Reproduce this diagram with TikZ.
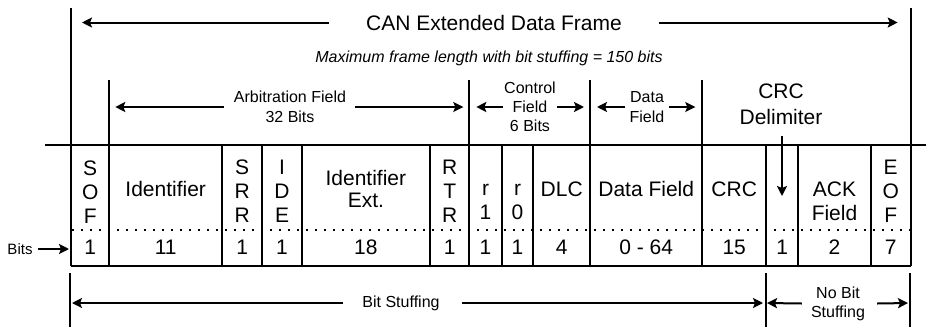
\documentclass[tikz,border=0pt]{standalone}
\usepackage{fontspec}
\setmainfont{Liberation Sans}
\usetikzlibrary{arrows.meta}
\begin{document}
\begin{tikzpicture}[x=1pt,y=-1pt,
    boxline/.style={line width=2.3pt},
    thinline/.style={line width=1.2pt},
    dimarrow/.style={line width=2pt,-{Stealth[length=10pt,width=10pt,inset=2pt]}},
    bigtext/.style={font=\fontsize{21}{24}\selectfont,align=center,inner sep=0pt},
    smalltext/.style={font=\fontsize{16}{20}\selectfont,align=center,inner sep=0pt}]
  \useasboundingbox (0,0) rectangle (926,327);
  \foreach \n/\x in {0/71,1/109.3,2/222,3/262.3,4/301.7,5/430,6/469.3,7/501.7,
                     8/533.3,9/590,10/702.3,11/766,12/798.3,13/870.7,14/910.7}
    \coordinate (c\n) at (\x,145);
  \coordinate (f0) at (71,8);
  \coordinate (f1) at (910.7,8);
  \draw[thinline] (45,145) -- (926,145);
  \draw[boxline] (f0) -- (71,266);
  \draw[boxline] (f1) -- (910.7,266);
  \draw[boxline] (71,266) -- (910.7,266);
  \foreach \n in {1,...,13}
    \draw[boxline] (c\n) -- ++(0,121);
  \foreach \n in {1,6,9,10}
    \draw[boxline] (c\n) -- ++(0,-65);
  \draw[line width=2.4pt, dash pattern=on 2.4pt off 6.6pt] (72,230) -- (910,230);
  \node[bigtext] (title) at (494,22.5) {CAN Extended Data Frame};
  \draw[dimarrow, shorten >=11pt] ([xshift=-37pt]title.west) -- (title.west -| f0);
  \draw[dimarrow, shorten >=13pt] ([xshift=37pt]title.east) -- (title.east -| f1);
  \node[smalltext, font=\fontsize{16}{19}\selectfont\itshape] (maxlen) at (489,58)
    {Maximum frame length with bit stuffing = 150 bits};
  \node[smalltext] (arb) at (290,107) {Arbitration Field\\32 Bits};
  \draw[dimarrow, shorten >=6pt] ([xshift=-10pt]arb.west) -- (arb.west -| c1);
  \draw[dimarrow, shorten >=6pt] ([xshift=9pt]arb.east) -- (arb.east -| c6);
  \node[smalltext, font=\fontsize{16}{19}\selectfont] (ctrl) at (530,107) {Control\\Field\\6 Bits};
  \draw[dimarrow, shorten >=7pt] ([xshift=-1pt]ctrl.west) -- (ctrl.west -| c6);
  \draw[dimarrow, shorten >=6pt] ([xshift=1pt]ctrl.east) -- (ctrl.east -| c9);
  \node[smalltext] (data) at (647,107) {Data\\Field};
  \draw[dimarrow, shorten >=7pt] ([xshift=-4pt]data.west) -- (data.west -| c9);
  \draw[dimarrow, shorten >=7pt] ([xshift=4pt]data.east) -- (data.east -| c10);
  \node[bigtext, font=\fontsize{21}{26}\selectfont] (crcdel) at (781,104) {CRC\\Delimiter};
  \coordinate (deltip) at (782,196);
  \draw[dimarrow] (782,136) -- (deltip);
  \node[bigtext] (sof) at (90.2,192.5) {S\\O\\F};
  \node[bigtext] (ident) at (165.7,189) {Identifier};
  \node[bigtext] (srr) at (242.2,191.5) {S\\R\\R};
  \node[bigtext] (ide) at (282,191.5) {I\\D\\E};
  \node[bigtext, font=\fontsize{21}{22}\selectfont] (identext) at (365.9,189) {Identifier\\Ext.};
  \node[bigtext] (rtr) at (449.7,191.5) {R\\T\\R};
  \node[bigtext] (rone) at (485.5,202) {r\\1};
  \node[bigtext] (rzero) at (517.5,202) {r\\0};
  \node[bigtext] (dlc) at (561.7,189) {DLC};
  \node[bigtext] (datafield) at (646.2,189) {Data Field};
  \node[bigtext] (crc) at (734.2,189) {CRC};
  \node[bigtext] (ack) at (834.5,201.5) {ACK\\Field};
  \node[bigtext] (eof) at (890.7,191) {E\\O\\F};
  \foreach \x/\b [count=\i] in {90.2/1,165.7/11,242.2/1,282/1,365.9/18,449.7/1,485.5/1,
                                517.5/1,561.7/4,646.2/0 - 64,734.2/15,782.2/1,834.5/2,890.7/7}
    \node[bigtext] (bit\i) at (\x,247) {\b};
  \node[smalltext, font=\fontsize{15}{16}\selectfont] (bits) at (20,249) {Bits};
  \draw[dimarrow, shorten >=2pt] ([xshift=5pt]bits.east) -- (bits.east -| c0);
  \draw[thinline] (70,273) -- (70,327);
  \draw[thinline] (766,273) -- (766,327);
  \draw[thinline] (910,273) -- (910,327);
  \coordinate (s0) at (70,303);
  \coordinate (s1) at (766,303);
  \coordinate (s2) at (910,303);
  \node[smalltext] (stuff) at (401,303) {Bit Stuffing};
  \draw[dimarrow, shorten >=2pt] ([xshift=-19pt]stuff.west) -- (s0);
  \draw[dimarrow, shorten >=3pt] ([xshift=22pt]stuff.east) -- (s1);
  \node[smalltext, font=\fontsize{16}{19}\selectfont] (nostuff) at (838,303.5) {No Bit\\Stuffing};
  \draw[dimarrow, shorten >=1pt] ([xshift=-9pt]nostuff.west) -- (s1);
  \draw[dimarrow, shorten >=2pt] ([xshift=12pt]nostuff.east) -- (s2);
\end{tikzpicture}
\end{document}
